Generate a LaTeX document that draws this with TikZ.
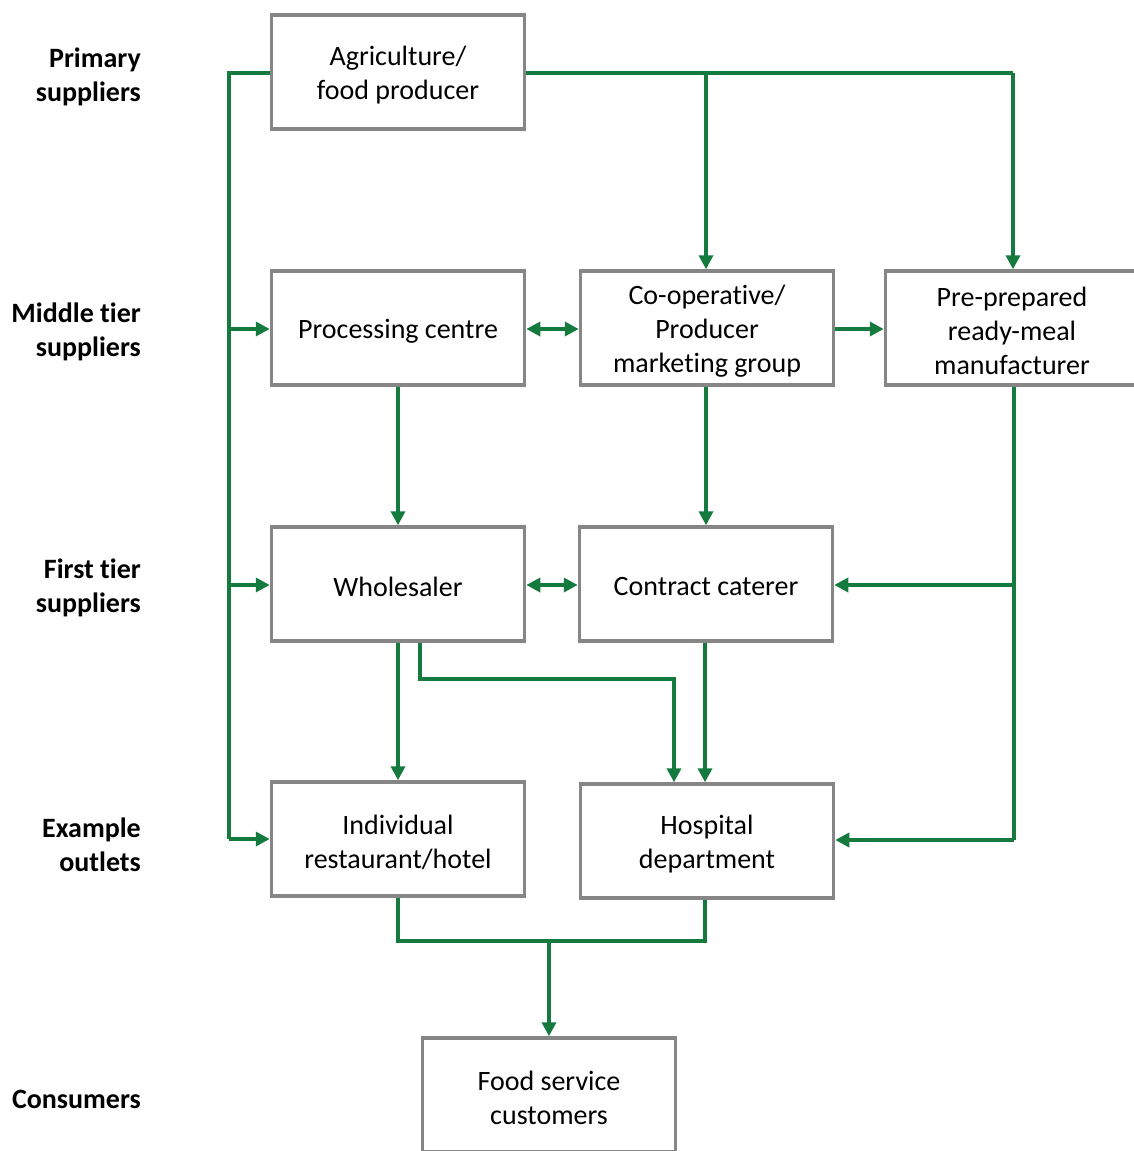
\documentclass[tikz,border=0pt]{standalone}
\usepackage{fontspec}
\setmainfont{Carlito}[Ligatures={NoCommon}]
\usetikzlibrary{arrows.meta}
\definecolor{flowgreen}{RGB}{20,122,62}
\definecolor{boxgray}{RGB}{134,134,134}
\tikzset{
  boxtext/.style={align=center, font=\fontsize{28}{34}\selectfont, inner sep=0pt, yshift=-3pt},
  box/.style={draw=boxgray, line width=3.5pt, fill=white, minimum width=253pt, minimum height=114pt, inner sep=0pt, label={[boxtext]center:{#1}}},
  tier/.style={anchor=east, align=right, font=\bfseries\fontsize{28}{34}\selectfont, inner sep=0pt},
  flow/.style={draw=flowgreen, line width=3.5pt, -{Triangle[length=14pt,width=14pt]}},
  line/.style={draw=flowgreen, line width=3.5pt},
  both/.style={draw=flowgreen, line width=3.5pt, {Triangle[length=14pt,width=14pt]}-{Triangle[length=14pt,width=14pt]}}
}
\begin{document}
\begin{tikzpicture}[x=1pt,y=-1pt]
\useasboundingbox (0,0) rectangle (1134,1151);
\fill[white] (0,0) rectangle (1134,1151);

% tier labels
\node[tier] (t1) at (141,77) {Primary\\suppliers};
\node[tier] (t2) at (141,332) {Middle tier\\suppliers};
\node[tier] (t3) at (141,588) {First tier\\suppliers};
\node[tier] (t4) at (141,845) {Example\\outlets};
\node[tier] (t5) at (141,1099) {Consumers};

% boxes
\node[box={Agriculture/\\food producer}] (agri) at (398,72) {};
\node[box={Processing centre}] (proc) at (398,328) {};
\node[box={Co-operative/\\Producer\\marketing group}] (coop) at (707,328) {};
\node[box={Pre-prepared\\ready-meal\\manufacturer}] (prep) at (1012,328) {};
\node[box={Wholesaler}] (whol) at (398,584) {};
\node[box={Contract caterer}] (cont) at (706,584) {};
\node[box={Individual\\restaurant/hotel}] (indi) at (398,839) {};
\node[box={Hospital\\department}] (hosp) at (707,841) {};
\node[box={Food service\\customers}] (cust) at (549,1095) {};

% left spine
\coordinate (sp0) at (229,73);
\coordinate (sp1) at (229,329);
\coordinate (sp2) at (229,585);
\coordinate (sp3) at (229,839);
\draw[line] (agri.west |- sp0) -- (sp0) -- (sp3);
\draw[flow] (sp1) -- (proc.west |- sp1);
\draw[flow] (sp2) -- (whol.west |- sp2);
\draw[flow] (sp3) -- (indi.west |- sp3);

% top branch
\coordinate (tr) at (1013,73);
\coordinate (tm) at (706,73);
\draw[line] (agri.east |- tr) -- (tr);
\draw[flow] (tr) -- (tr |- prep.north);
\draw[flow] (tm) -- (tm |- coop.north);

% middle tier links
\draw[both] (proc.east |- 0,329) -- (coop.west |- 0,329);
\draw[flow] (coop.east |- 0,329) -- (prep.west |- 0,329);
\draw[flow] (proc.south) -- (whol.north);
\draw[flow] (coop.south -| 706,0) -- (cont.north -| 706,0);

% right spine from pre-prepared
\coordinate (rs0) at (1014,585);
\coordinate (rs1) at (1014,840);
\draw[line] (prep.south -| rs0) -- (rs1);
\draw[flow] (rs0) -- (cont.east |- rs0);
\draw[flow] (rs1) -- (hosp.east |- rs1);

% first tier links
\draw[both] (whol.east |- 0,585) -- (cont.west |- 0,585);
\draw[flow] (whol.south) -- (indi.north);
\coordinate (wa) at (420,679);
\coordinate (wb) at (674,679);
\draw[flow] (whol.south -| wa) -- (wa) -- (wb) -- (wb |- hosp.north);
\draw[flow] (cont.south -| 705,0) -- (hosp.north -| 705,0);

% to consumers
\coordinate (ca) at (398,941);
\coordinate (cb) at (705,941);
\coordinate (cm) at (549,941);
\draw[line] (indi.south -| ca) -- (ca) -- (cb) -- (hosp.south -| cb);
\draw[flow] (cm) -- (cust.north -| cm);
\end{tikzpicture}
\end{document}
